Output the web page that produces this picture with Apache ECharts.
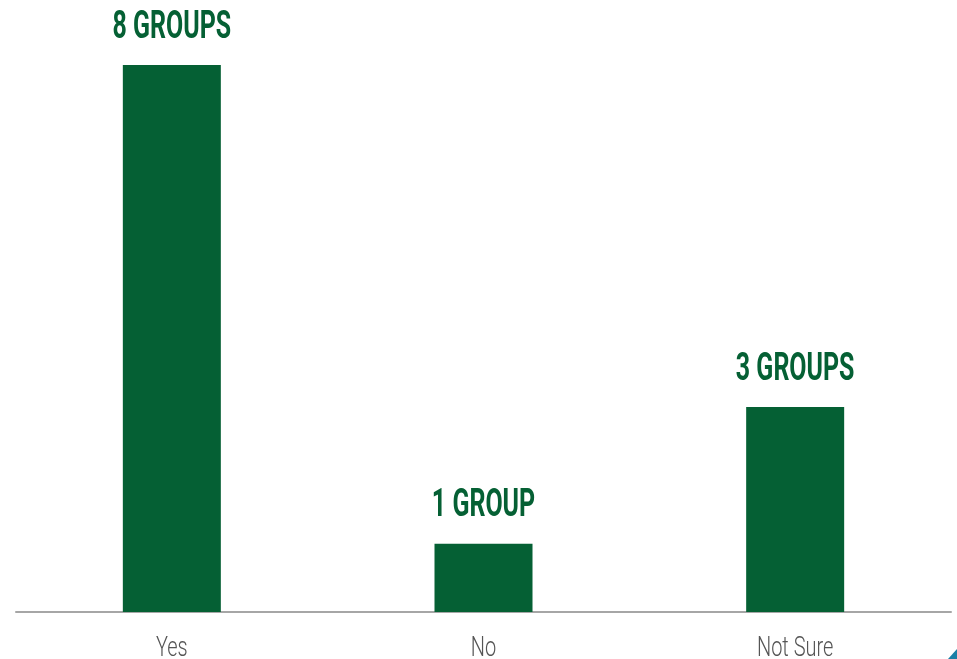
<!DOCTYPE html>
<html>
<head>
<meta charset="utf-8">
<script src="https://cdn.jsdelivr.net/npm/echarts@6/dist/echarts.min.js"></script>
<style>html,body{margin:0;padding:0;background:#fff}#c{width:957px;height:659px}</style>
</head>
<body>
<div id="c"></div>
<script>
const categories = ['Yes', 'No', 'Not Sure'];
const values = [8, 1, 3];
const valueLabels = ['8 GROUPS', '1 GROUP', '3 GROUPS'];

const green = '#056034';
const chart = echarts.init(document.getElementById('c'), null, {renderer: 'canvas'});
chart.setOption({
  animation: false,
  grid: {left: 16, right: 6, top: 65, bottom: 47},
  xAxis: {
    type: 'category',
    data: categories,
    axisLine: {lineStyle: {color: '#a6a6a6', width: 2}},
    axisTick: {show: false},
    axisLabel: {show: false}
  },
  yAxis: {type: 'value', min: 0, max: 8, show: false},
  series: [{
    type: 'bar',
    data: values,
    barWidth: 98,
    itemStyle: {color: green}
  }, {
    type: 'custom',
    data: values.map((v, i) => [i, v]),
    encode: {x: 0, y: 1},
    silent: true,
    z: 5,
    renderItem: function (params, api) {
      const i = api.value(0);
      const top = api.coord([i, api.value(1)]);
      const base = api.coord([i, 0]);
      return {
        type: 'group',
        children: [{
          type: 'text',
          x: top[0], y: top[1] - 37,
          scaleX: 0.64,
          style: {
            text: valueLabels[params.dataIndex],
            align: 'center', verticalAlign: 'middle',
            fill: green,
            font: 'bold 39px Roboto, sans-serif'
          }
        }, {
          type: 'text',
          x: base[0], y: base[1] + 37,
          scaleX: 0.74,
          style: {
            text: categories[params.dataIndex],
            align: 'center', verticalAlign: 'middle',
            fill: '#555555',
            font: '300 27px Roboto, sans-serif'
          }
        }]
      };
    }
  }],
  graphic: [{
    type: 'polygon',
    shape: {points: [[957, 649], [957, 659], [948, 659]]},
    style: {fill: '#1b7fa6'}
  }]
});
</script>
</body>
</html>
